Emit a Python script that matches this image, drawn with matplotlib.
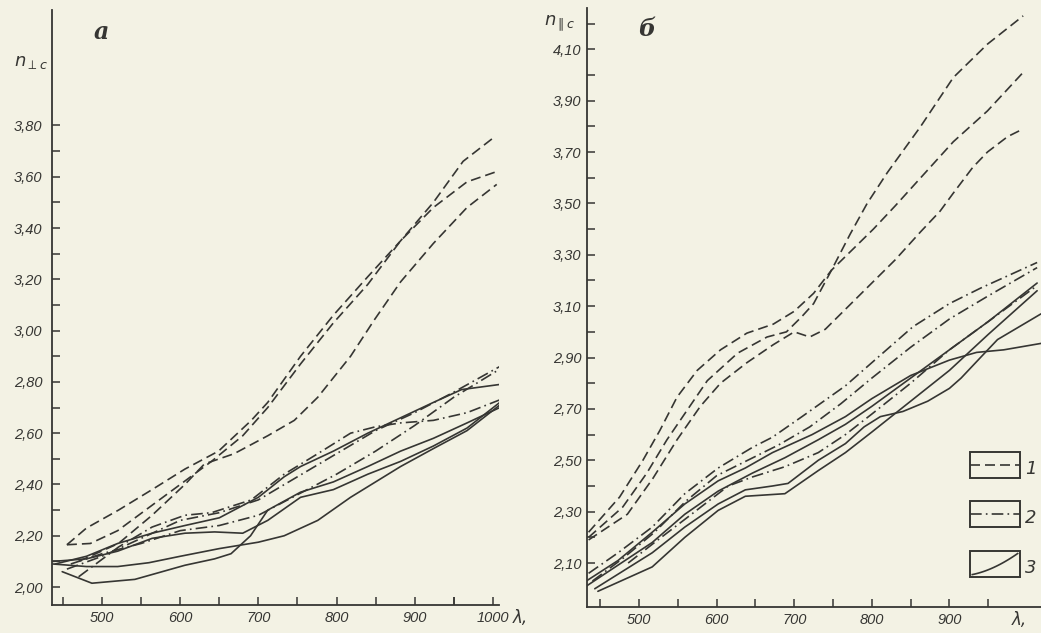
import numpy as np
import matplotlib
matplotlib.use("Agg")
import matplotlib.pyplot as plt
from matplotlib.patches import Rectangle
from matplotlib.ticker import FixedLocator, FuncFormatter

# ============================
# DATA  (wavelength, nm  ->  refractive index)
# ============================

# panel a : n perpendicular c
a_dash1_x = [455, 480, 521, 564, 606, 649, 691, 712, 754, 796, 840, 882, 924, 962, 1000]
a_dash1_y = [2.165, 2.23, 2.30, 2.38, 2.46, 2.53, 2.65, 2.72, 2.90, 3.06, 3.21, 3.35, 3.50, 3.66, 3.75]
a_dash2_x = [455, 485, 520, 560, 600, 640, 680, 712, 754, 796, 840, 882, 924, 967, 1005]
a_dash2_y = [2.165, 2.17, 2.22, 2.31, 2.40, 2.49, 2.59, 2.70, 2.87, 3.03, 3.18, 3.35, 3.48, 3.58, 3.62]
a_dash3_x = [470, 521, 564, 606, 631, 669, 712, 746, 776, 818, 848, 882, 924, 967, 1005]
a_dash3_y = [2.10, 2.17, 2.28, 2.40, 2.48, 2.52, 2.59, 2.65, 2.74, 2.90, 3.04, 3.19, 3.34, 3.48, 3.57]

a_dd1_x = [470, 521, 564, 606, 640, 691, 733, 776, 818, 850, 882, 924, 967, 1009]
a_dd1_y = [2.04, 2.156, 2.234, 2.28, 2.29, 2.34, 2.44, 2.52, 2.60, 2.625, 2.64, 2.65, 2.68, 2.73]
a_dd2_x = [455, 500, 550, 600, 650, 700, 750, 800, 850, 900, 950, 1009]
a_dd2_y = [2.07, 2.12, 2.19, 2.26, 2.29, 2.34, 2.43, 2.52, 2.61, 2.68, 2.76, 2.86]
a_dd3_x = [460, 500, 550, 600, 650, 700, 750, 800, 850, 900, 950, 1009]
a_dd3_y = [2.09, 2.13, 2.17, 2.22, 2.24, 2.28, 2.36, 2.44, 2.53, 2.63, 2.74, 2.85]

a_sol1_x = [449, 487, 542, 606, 644, 665, 690, 712, 754, 796, 840, 882, 924, 967, 1009]
a_sol1_y = [2.06, 2.015, 2.03, 2.085, 2.11, 2.13, 2.20, 2.30, 2.37, 2.41, 2.47, 2.53, 2.58, 2.64, 2.70]
a_sol2_x = [437, 480, 520, 560, 600, 650, 700, 733, 776, 818, 850, 882, 924, 967, 1009]
a_sol2_y = [2.09, 2.08, 2.08, 2.095, 2.12, 2.15, 2.175, 2.20, 2.26, 2.35, 2.41, 2.47, 2.54, 2.61, 2.71]
a_sol3_x = [437, 480, 520, 564, 606, 644, 680, 712, 754, 796, 840, 882, 924, 967, 1009]
a_sol3_y = [2.10, 2.11, 2.14, 2.19, 2.21, 2.215, 2.21, 2.26, 2.35, 2.38, 2.44, 2.49, 2.55, 2.62, 2.72]
a_sol4_x = [440, 480, 520, 564, 606, 650, 700, 733, 754, 796, 840, 882, 924, 960, 1009]
a_sol4_y = [2.09, 2.12, 2.17, 2.21, 2.24, 2.27, 2.35, 2.43, 2.47, 2.53, 2.60, 2.66, 2.72, 2.77, 2.79]

# panel b : n parallel c
b_dash1_x = [435, 475, 505, 527, 549, 575, 605, 639, 673, 700, 725, 748, 775, 802, 830, 863, 905, 949, 995]
b_dash1_y = [2.22, 2.357, 2.50, 2.617, 2.746, 2.85, 2.93, 2.995, 3.03, 3.08, 3.15, 3.24, 3.32, 3.40, 3.49, 3.60, 3.74, 3.86, 4.01]
b_dash2_x = [435, 479, 510, 536, 562, 588, 627, 665, 690, 710, 725, 748, 772, 794, 820, 863, 905, 949, 995]
b_dash2_y = [2.20, 2.318, 2.45, 2.58, 2.695, 2.81, 2.917, 2.98, 3.00, 3.06, 3.11, 3.24, 3.38, 3.50, 3.62, 3.80, 3.99, 4.12, 4.23]
b_dash3_x = [435, 485, 518, 549, 579, 605, 639, 673, 700, 720, 740, 770, 800, 830, 863, 888, 905, 930, 949, 975, 995]
b_dash3_y = [2.19, 2.29, 2.43, 2.58, 2.71, 2.80, 2.88, 2.95, 3.00, 2.98, 3.01, 3.10, 3.19, 3.28, 3.39, 3.47, 3.54, 3.64, 3.70, 3.76, 3.79]

b_dd1_x = [435, 473, 517, 559, 602, 646, 672, 710, 766, 800, 853, 900, 940, 1013]
b_dd1_y = [2.06, 2.14, 2.24, 2.37, 2.47, 2.55, 2.59, 2.67, 2.79, 2.88, 3.02, 3.11, 3.17, 3.27]
b_dd2_x = [440, 480, 520, 560, 600, 640, 680, 720, 760, 800, 850, 900, 950, 1013]
b_dd2_y = [2.03, 2.12, 2.22, 2.34, 2.44, 2.50, 2.56, 2.63, 2.72, 2.82, 2.94, 3.05, 3.14, 3.25]
b_dd3_x = [486, 520, 559, 615, 646, 688, 731, 766, 800, 850, 900, 950, 1013]
b_dd3_y = [2.10, 2.18, 2.27, 2.40, 2.435, 2.475, 2.53, 2.60, 2.68, 2.80, 2.93, 3.04, 3.18]

b_sol1_x = [432, 473, 517, 559, 602, 637, 672, 723, 766, 800, 850, 900, 935, 970, 1018]
b_sol1_y = [2.03, 2.11, 2.22, 2.33, 2.42, 2.47, 2.53, 2.60, 2.67, 2.74, 2.83, 2.89, 2.92, 2.93, 2.955]
b_sol2_x = [432, 517, 559, 602, 646, 688, 731, 766, 800, 850, 900, 950, 1013]
b_sol2_y = [2.01, 2.18, 2.29, 2.38, 2.45, 2.51, 2.58, 2.64, 2.71, 2.82, 2.93, 3.04, 3.19]
b_sol3_x = [443, 517, 559, 602, 637, 672, 692, 731, 766, 790, 811, 840, 872, 900, 915, 940, 962, 990, 1018]
b_sol3_y = [2.00, 2.14, 2.24, 2.33, 2.385, 2.40, 2.41, 2.50, 2.565, 2.63, 2.67, 2.69, 2.73, 2.78, 2.82, 2.90, 2.97, 3.02, 3.07]
b_sol4_x = [447, 517, 559, 602, 637, 688, 731, 766, 800, 850, 900, 950, 1013]
b_sol4_y = [1.99, 2.085, 2.20, 2.305, 2.36, 2.37, 2.46, 2.53, 2.61, 2.73, 2.85, 2.99, 3.16]

a_yticks = [2.00, 2.20, 2.40, 2.60, 2.80, 3.00, 3.20, 3.40, 3.60, 3.80]
b_yticks = [2.10, 2.30, 2.50, 2.70, 2.90, 3.10, 3.30, 3.50, 3.70, 3.90, 4.10]
a_xticks = [500, 600, 700, 800, 900, 1000]
b_xticks = [500, 600, 700, 800, 900]
legend_labels = ["1", "2", "3"]

# ============================
# STYLE
# ============================

BG = "#f3f2e4"
INK = "#363633"
LW = 1.2
DASH = (0, (6, 3))
DASHDOT = (0, (7, 2.5, 1, 2.5))
TICKFONT = dict(family="Liberation Sans", style="italic", size=10.5, color=INK)

fig = plt.figure(figsize=(10.41, 6.33), dpi=100, facecolor=BG)
ax_a = fig.add_axes([0.050, 0.0442, 0.4294, 0.940])
ax_b = fig.add_axes([0.5639, 0.0411, 0.4361, 0.946])

comma = FuncFormatter(lambda v, p: f"{v:.2f}".replace(".", ","))


def style_axis(ax, xlim, ylim, xt, yt, ymin, ypad):
    ax.set_facecolor(BG)
    ax.set_xlim(*xlim)
    ax.set_ylim(*ylim)
    for s in ["top", "right"]:
        ax.spines[s].set_visible(False)
    for s in ["left", "bottom"]:
        ax.spines[s].set_color(INK)
        ax.spines[s].set_linewidth(1.3)
    ax.xaxis.set_major_locator(FixedLocator(xt))
    ax.xaxis.set_minor_locator(FixedLocator([v - 50 for v in xt] + [950]))
    ax.yaxis.set_major_locator(FixedLocator(yt))
    ax.yaxis.set_minor_locator(FixedLocator(ymin))
    ax.yaxis.set_major_formatter(comma)
    ax.tick_params(which="both", direction="in", length=6, width=1.1, color=INK)
    ax.tick_params(axis="x", pad=4)
    ax.tick_params(axis="y", pad=ypad)
    for lab in ax.get_xticklabels() + ax.get_yticklabels():
        lab.set(**TICKFONT)


def draw(ax, xs, ys, ls):
    ax.plot(xs, ys, color=INK, lw=LW, linestyle=ls, solid_capstyle="round")


# ---- panel a ----
style_axis(ax_a, (436, 1008), (1.93, 4.25), a_xticks, a_yticks,
           [v + 0.10 for v in a_yticks[:-1]], 7)
for xs, ys in [(a_dash1_x, a_dash1_y), (a_dash2_x, a_dash2_y), (a_dash3_x, a_dash3_y)]:
    draw(ax_a, xs, ys, DASH)
for xs, ys in [(a_dd1_x, a_dd1_y), (a_dd2_x, a_dd2_y), (a_dd3_x, a_dd3_y)]:
    draw(ax_a, xs, ys, DASHDOT)
for xs, ys in [(a_sol1_x, a_sol1_y), (a_sol2_x, a_sol2_y), (a_sol3_x, a_sol3_y), (a_sol4_x, a_sol4_y)]:
    draw(ax_a, xs, ys, "-")

ax_a.text(0.11, 0.963, "a", transform=ax_a.transAxes, fontsize=17, fontweight="bold",
          style="italic", family="DejaVu Serif", color=INK, va="center", ha="center")
ax_a.text(-0.085, 0.912, r"$n_{\perp c}$", transform=ax_a.transAxes, fontsize=13,
          color=INK, va="center", ha="left")
ax_a.text(1.03, -0.021, "λ,", transform=ax_a.transAxes, fontsize=12, style="italic",
          color=INK, va="center", ha="left")

# ---- panel b ----
style_axis(ax_b, (433, 1018), (1.929, 4.26), b_xticks, b_yticks,
           [v + 0.10 for v in b_yticks], 4)
for xs, ys in [(b_dash1_x, b_dash1_y), (b_dash2_x, b_dash2_y), (b_dash3_x, b_dash3_y)]:
    draw(ax_b, xs, ys, DASH)
for xs, ys in [(b_dd1_x, b_dd1_y), (b_dd2_x, b_dd2_y), (b_dd3_x, b_dd3_y)]:
    draw(ax_b, xs, ys, DASHDOT)
for xs, ys in [(b_sol1_x, b_sol1_y), (b_sol2_x, b_sol2_y), (b_sol3_x, b_sol3_y), (b_sol4_x, b_sol4_y)]:
    draw(ax_b, xs, ys, "-")

ax_b.text(0.132, 0.966, "б", transform=ax_b.transAxes, fontsize=17, fontweight="bold",
          style="italic", family="DejaVu Serif", color=INK, va="center", ha="center")
ax_b.text(-0.095, 0.975, r"$n_{\parallel c}$", transform=ax_b.transAxes, fontsize=13,
          color=INK, va="center", ha="left")
ax_b.text(0.935, -0.021, "λ,", transform=ax_b.transAxes, fontsize=12, style="italic",
          color=INK, va="center", ha="left")

# legend boxes (1 dashed, 2 dash-dot, 3 solid)
box_y = [0.2154, 0.1336, 0.0501]
box_styles = [DASH, DASHDOT, "-"]
bx0, bw, bh = 0.8436, 0.110, 0.0440
for lab, y0, ls in zip(legend_labels, box_y, box_styles):
    ax_b.add_patch(Rectangle((bx0, y0), bw, bh, transform=ax_b.transAxes, fill=False,
                             edgecolor=INK, lw=1.4, clip_on=False))
    if ls == "-":
        t = np.linspace(0, 1, 30)
        sx = bx0 + 0.005 + t * (bw - 0.01)
        sy = y0 + 0.004 + bh * (0.35 * t + 0.5 * t ** 2 * (1 - t) + 0.45 * t ** 3)
        ax_b.plot(sx, sy, transform=ax_b.transAxes, color=INK, lw=LW, clip_on=False)
    else:
        ax_b.plot([bx0, bx0 + bw], [y0 + bh / 2, y0 + bh / 2], transform=ax_b.transAxes,
                  color=INK, lw=LW, linestyle=ls, clip_on=False)
    ax_b.text(bx0 + bw + 0.012, y0 + bh * 0.35, lab, transform=ax_b.transAxes,
              fontsize=13, style="italic", color=INK, va="center", ha="left")

fig.savefig("out.png", dpi=100, facecolor=BG)
